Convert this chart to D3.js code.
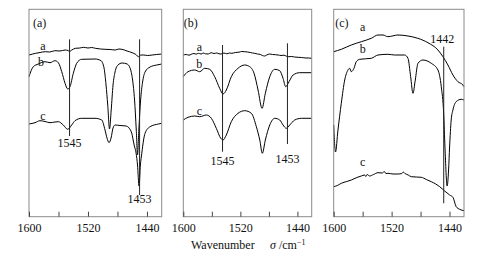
<!DOCTYPE html>
<html>
<head>
<meta charset="utf-8">
<script src="https://cdn.jsdelivr.net/npm/d3@7"></script>
<style>
  html, body { margin: 0; padding: 0; background: #fff; }
  svg { display: block; }
  text { font-family: "Liberation Serif", "Times New Roman", serif; fill: #111; }
</style>
</head>
<body>
<svg id="chart" width="483" height="259"></svg>
<script>
// ---------------- DATA ----------------
const xDomain = [1600, 1420];
const tickValues = [1600, 1560, 1520, 1480, 1440];
const tickLabels = ["1600", "1520", "1440"];
const panelNames = ["(a)", "(b)", "(c)"];
const curveNames = ["a", "b", "c"];

// panel (a): [wavenumber, relative intensity]
const panelA_a = [[1600,162],[1595,163],[1591,163.7],[1585,164.5],[1578,165.3],[1572,165],[1565,166.3],[1558,166],[1551,167],[1547,166.5],[1545,165.5],[1542,167],[1537,168.7],[1531,169],[1526,169.7],[1520,169],[1515,169.5],[1510,168.7],[1503,168],[1497,167.7],[1490,167.5],[1483,167],[1478,168],[1474,167.7],[1467,166],[1460,164.3],[1455,162.5],[1451.5,160.3],[1448,162],[1445,162],[1439,161.5],[1433,162],[1427,162.5],[1420,163]];
const panelA_b = [[1600,140.3],[1594.2,150.3],[1587.4,153],[1578.3,155.3],[1571.5,154.3],[1564.7,156.3],[1560.2,154.3],[1555.6,145.3],[1551.1,133.7],[1547.5,128],[1544.4,130.3],[1539.9,143.7],[1535.3,153.7],[1528.5,157.7],[1510.4,158],[1502.3,156.3],[1498.2,149],[1495.5,132],[1493.2,112],[1490.8,88],[1488.5,107],[1486,132],[1483.3,145],[1479.3,152],[1473.8,154],[1467,153],[1462.9,149],[1459.5,137],[1456.8,117],[1454.5,87],[1452.8,62],[1451,87],[1448.6,117],[1445.9,135],[1442.6,145],[1435.8,150],[1426.7,152],[1420,153]];
const panelA_c = [[1600,93],[1591.9,94.3],[1585.1,96.3],[1578.3,95.5],[1571.5,94.3],[1564.7,95],[1560.2,95.3],[1553.5,92],[1547.5,87.7],[1542.1,92],[1537.6,96.3],[1528.5,98.7],[1510.4,98.7],[1501.3,97],[1496.9,87],[1494.2,79],[1491.4,74.3],[1488.7,79],[1486,89],[1483.3,92],[1476.5,91.5],[1468.4,91],[1464.3,89],[1460.6,83.7],[1457.4,72],[1454.7,63.7],[1452.8,52],[1450.7,31],[1448.9,52],[1447,63.7],[1444.6,77],[1442.6,83.7],[1435.8,90.3],[1424.5,93],[1420,93.7]];

// panel (b)
const panelB_a = [[1600,162],[1596,162.5],[1592,161.8],[1589,162.7],[1585,163.5],[1582,162.8],[1579,163.7],[1575,163],[1572,164],[1569,163.2],[1565,163],[1561,164.3],[1557,163.5],[1553,164],[1550,163.2],[1547,163],[1543,164],[1539,163.2],[1535,164],[1532,163.7],[1527,164.5],[1522,164.8],[1518,165.5],[1514,165.3],[1510,165],[1506,164.5],[1503,164],[1500,163.7],[1496,163],[1492,162.5],[1489,161.5],[1486,161],[1483,162],[1479,163],[1475,162.5],[1471,162.3],[1467,162],[1463,161.5],[1459,161.8],[1455,160.7],[1452,160.3],[1448,160.5],[1444,160],[1439,159.7],[1434,159.5],[1428,159],[1424,159],[1420,158.7]];
const panelB_b = [[1600,140.3],[1593.4,145.3],[1584,147],[1577,145.3],[1570,148.7],[1563,147.7],[1556,140.3],[1549,128.7],[1544.3,123],[1539.7,127],[1532.7,140.3],[1523.3,148.7],[1513.9,152],[1506.9,150.3],[1500.8,143.7],[1495.2,127],[1489.6,108.7],[1485,123.7],[1478.8,140.3],[1471.8,147.7],[1464.8,146.3],[1460.2,138.7],[1456.4,130.3],[1451.8,135.3],[1446.1,142],[1436.8,144.3],[1420.5,144.3]];
const panelB_c = [[1600,97],[1593.4,99.7],[1584,101],[1577,100.3],[1567.7,102],[1560.7,98.7],[1553.7,88.7],[1547.5,78.7],[1544.3,77],[1539.7,82],[1532.7,95.3],[1523.3,103.7],[1513.9,106.3],[1504.6,103.7],[1497.6,90.3],[1492.8,77],[1489.2,63.7],[1485,77],[1478.8,92],[1471.8,98.7],[1464.8,97],[1460.2,92],[1455.6,88.7],[1450.8,92],[1443.8,97],[1434.5,98.7],[1420.5,98.7]];

// panel (c)
const panelC_a = [[1600,165.3],[1589.5,167.7],[1575.7,172],[1561.9,175.3],[1548.1,178.7],[1538.8,182],[1531.9,182],[1525.1,180.3],[1511.2,182],[1497.4,181],[1483.8,178.7],[1469.8,174.3],[1456,167],[1449.1,160.3],[1442.2,152],[1435.3,142],[1428.4,135.3],[1421.5,132],[1420,130.3]];
const panelC_b = [[1600,92],[1597.5,65],[1594.1,87],[1589.5,113.7],[1584.8,137],[1580.3,147],[1577.9,148.7],[1575.7,145.3],[1572,148.7],[1568.8,155.3],[1564.1,157.7],[1548.1,158.7],[1538.8,162],[1525.1,162.7],[1515.8,162],[1502,162],[1497.4,158.7],[1493.7,140.3],[1490.5,123.7],[1487.3,137],[1483.6,153.7],[1476.7,157],[1465.2,153.7],[1456,147],[1451.4,130.3],[1448.1,103.7],[1446.3,70],[1443.3,31],[1441.3,47],[1439.9,70],[1437.7,97],[1435.3,107],[1430.8,115.3],[1423.9,117.7],[1420,117]];
const panelC_c = [[1600,30.3],[1595,31.5],[1589.5,33.7],[1582,35.5],[1575.7,37],[1568,39.5],[1561.9,41],[1557.2,42],[1555.5,40.5],[1554,42.5],[1550.3,41],[1545,42.5],[1538.8,44.3],[1533,44],[1530,45.5],[1528,43.5],[1525.1,43.7],[1518,43],[1511.2,43],[1506,43.5],[1504,45],[1502,43.7],[1497,42],[1492.8,40.3],[1486,40],[1479,39.7],[1472,37.5],[1465.2,35.3],[1459,33],[1453.6,30.3],[1446.7,26],[1439.8,22],[1435.3,19.7],[1430.8,10.3],[1426,7.7],[1420,6.3]];

// marker lines: plotted position and printed label
const markerPosA = [1545, 1450];
const markerLabA = ["1545", "1453"];
const markerPosB = [1545, 1454];
const markerLabB = ["1545", "1453"];
const markerPosC = [1448];
const markerLabC = ["1442"];

// ---------------- LAYOUT ----------------
const svg = d3.select("#chart");
const plotTop = 9.3, plotBottom = 216.7;
const panels = [
  { left: 29, right: 161.7, name: panelNames[0], curves: [panelA_a, panelA_b, panelA_c],
    markers: markerPosA.map((p, i) => ({ pos: p, label: markerLabA[i] })),
    mk: [ {y0: 39.3, y1: 136, ly: 146.7}, {y0: 39.3, y1: 195, ly: 203.3} ],
    labels: [ {dx: 14, y: 50}, {dx: 12, y: 65.5}, {dx: 14, y: 120} ], nameDx: 4 },
  { left: 183.3, right: 311.7, name: panelNames[1], curves: [panelB_a, panelB_b, panelB_c],
    markers: markerPosB.map((p, i) => ({ pos: p, label: markerLabB[i] })),
    mk: [ {y0: 45, y1: 151.7, ly: 165}, {y0: 43.3, y1: 144, ly: 163.3} ],
    labels: [ {dx: 16, y: 51}, {dx: 16, y: 68}, {dx: 16, y: 115} ], nameDx: 0.5 },
  { left: 333.7, right: 464, name: panelNames[2], curves: [panelC_a, panelC_b, panelC_c],
    markers: markerPosC.map((p, i) => ({ pos: p, label: markerLabC[i] })),
    mk: [ {y0: 46.7, y1: 203.3, ly: 43, lx: -1.5} ],
    labels: [ {dx: 29, y: 31}, {dx: 29, y: 53}, {dx: 29, y: 166} ], nameDx: 1.5 }
];

const y = d3.scaleLinear().domain([0, 207.7]).range([217, 9.3]);

panels.forEach(p => {
  const x = d3.scaleLinear().domain(xDomain).range([p.left, p.right]);
  const g = svg.append("g");

  const line = d3.line().x(d => x(d[0])).y(d => y(d[1])).curve(d3.curveMonotoneX);
  p.curves.forEach(c => {
    g.append("path").attr("d", line(c))
      .attr("fill", "none").attr("stroke", "#000").attr("stroke-width", 1)
      .attr("stroke-linejoin", "round");
  });

  p.markers.forEach((m, i) => {
    const s = p.mk[i];
    g.append("line")
      .attr("x1", x(m.pos)).attr("x2", x(m.pos))
      .attr("y1", s.y0).attr("y2", s.y1)
      .attr("stroke", "#222").attr("stroke-width", 1);
    g.append("text")
      .attr("x", x(m.pos) + (s.lx || 0)).attr("y", s.ly)
      .attr("text-anchor", "middle").attr("font-size", 12)
      .text(m.label);
  });

  curveNames.forEach((n, i) => {
    g.append("text")
      .attr("x", p.left + p.labels[i].dx).attr("y", p.labels[i].y)
      .attr("text-anchor", "middle").attr("font-size", 12)
      .text(n);
  });

  g.append("rect")
    .attr("x", p.left).attr("y", plotTop)
    .attr("width", p.right - p.left).attr("height", plotBottom - plotTop)
    .attr("fill", "none").attr("stroke", "#8a8a8a").attr("stroke-width", 1);

  g.append("text").attr("x", p.left + p.nameDx).attr("y", 26.5)
    .attr("font-size", 12).text(p.name);

  const axis = d3.axisBottom(x).tickValues(tickValues).tickSize(-5)
    .tickFormat(d => tickLabels.includes(String(d)) ? String(d) : "");
  const ag = g.append("g").attr("transform", `translate(0,${plotBottom})`).call(axis);
  ag.select(".domain").remove();
  ag.selectAll(".tick line").attr("stroke", "#444");
  ag.selectAll(".tick text")
    .attr("y", 15.5).attr("dy", 0)
    .attr("font-size", 12).attr("font-family", "Liberation Serif, serif").attr("fill", "#111");
});

const title = svg.append("text").attr("x", 191).attr("y", 249).attr("font-size", 12);
title.append("tspan").text("Wavenumber");
const t2 = svg.append("text").attr("x", 270).attr("y", 249).attr("font-size", 12);
t2.append("tspan").attr("font-style", "italic").text("σ");
t2.append("tspan").text(" /cm");
t2.append("tspan").attr("dy", -4).attr("font-size", 8).text("−1");
</script>
</body>
</html>
